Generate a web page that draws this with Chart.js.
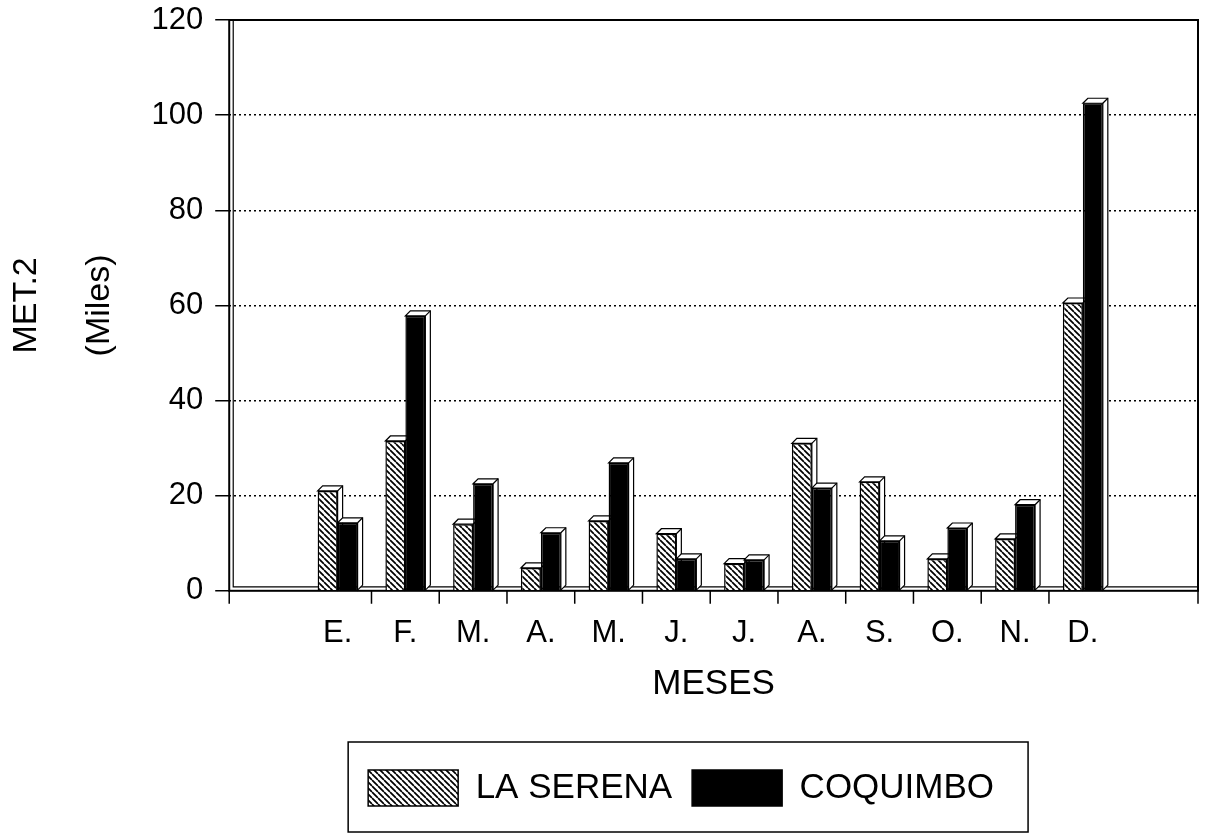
<!DOCTYPE html>
<html>
<head>
<meta charset="utf-8">
<script src="https://cdn.jsdelivr.net/npm/chart.js@4.4.1/dist/chart.umd.min.js"></script>
<style>
  body { margin: 0; background: #fff; }
  #wrap { width: 1206px; height: 840px; }
</style>
</head>
<body>
<div id="wrap"><canvas id="barChart" width="1206" height="840"></canvas></div>
<script>
// datos (miles de m2)
const meses = ['E.', 'F.', 'M.', 'A.', 'M.', 'J.', 'J.', 'A.', 'S.', 'O.', 'N.', 'D.'];
const laSerena = [21, 31.5, 14, 4.8, 14.7, 12, 5.7, 31, 22.9, 6.7, 10.9, 60.5];
const coquimbo = [14.3, 57.8, 22.5, 12.2, 26.9, 6.7, 6.5, 21.6, 10.5, 13.2, 18.1, 102.5];
const serieNombres = ['LA SERENA', 'COQUIMBO'];
const yTicks = [0, 20, 40, 60, 80, 100, 120];

const fontFam = "'Liberation Sans', Arial, sans-serif";
const depth = 5;
const legendShift = -32.5;

// meses en posiciones 1..12 del eje x
const toPoints = (arr) => arr.map((v, i) => ({ x: i + 1, y: v }));

// rayado diagonal para La Serena
function makeHatch() {
    const c = document.createElement('canvas');
    c.width = 6; c.height = 6;
    const g = c.getContext('2d');
    g.fillStyle = '#fff';
    g.fillRect(0, 0, 6, 6);
    g.strokeStyle = '#000';
    g.lineWidth = 1.7;
    g.beginPath();
    for (let k of [-6, 0, 6]) {
        g.moveTo(k, 0);
        g.lineTo(k + 6, 6);
    }
    g.stroke();
    return g.createPattern(c, 'repeat');
}
const hatch = makeHatch();

// marco, piso, marcas del eje x y caras 3D de las barras
const framePlugin = {
    id: 'frame3d',
    beforeDatasetsDraw(chart) {
        const ctx = chart.ctx;
        const a = chart.chartArea;
        const xs = chart.scales.x;
        ctx.save();
        ctx.strokeStyle = '#000';
        ctx.lineWidth = 1.2;
        ctx.beginPath();
        ctx.moveTo(a.left + 4, a.top + 1);
        ctx.lineTo(a.left + 4, a.bottom - 4);
        ctx.lineTo(a.right, a.bottom - 4);
        ctx.stroke();
        ctx.lineWidth = 2;
        ctx.strokeRect(a.left, a.top, a.right - a.left, a.bottom - a.top);

        // marcas entre meses
        ctx.lineWidth = 1.5;
        const marks = [a.left, a.right];
        for (let k = 1; k < meses.length; k++) marks.push(xs.getPixelForValue(k + 0.5));
        ctx.beginPath();
        for (let px of marks) {
            ctx.moveTo(px, a.bottom);
            ctx.lineTo(px, a.bottom + 13);
        }
        ctx.stroke();

        ctx.fillStyle = '#fff';
        ctx.lineWidth = 1.2;
        chart.data.datasets.forEach((ds, di) => {
            const meta = chart.getDatasetMeta(di);
            meta.data.forEach((bar) => {
                const p = bar.getProps(['x', 'y', 'base', 'width'], true);
                const l = p.x - p.width / 2, r = p.x + p.width / 2;
                ctx.beginPath();
                ctx.moveTo(l, p.y);
                ctx.lineTo(l + depth, p.y - depth);
                ctx.lineTo(r + depth, p.y - depth);
                ctx.lineTo(r + depth, p.base - depth);
                ctx.lineTo(r, p.base);
                ctx.lineTo(r, p.y);
                ctx.closePath();
                ctx.fill();
                ctx.stroke();
                ctx.beginPath();
                ctx.moveTo(r, p.y);
                ctx.lineTo(r + depth, p.y - depth);
                ctx.stroke();
            });
        });
        ctx.restore();
    },
    beforeDraw(chart) {
        // mover la leyenda un poco a la izquierda
        const lg = chart.legend;
        const a = chart.chartArea;
        if (lg) {
            lg.left = a.left + legendShift;
            lg.right = a.right + legendShift;
        }
    },
    afterDraw(chart) {
        const lg = chart.legend;
        if (!lg || !lg.legendHitBoxes.length) return;
        const hb = lg.legendHitBoxes;
        const first = hb[0], last = hb[hb.length - 1];
        const ctx = chart.ctx;
        ctx.save();
        ctx.strokeStyle = '#000';
        ctx.lineWidth = 1.5;
        const x1 = first.left + legendShift - 20;
        const x2 = last.left + last.width + legendShift + 34;
        const y1 = first.top - 28;
        const y2 = first.top + first.height + 26;
        ctx.strokeRect(x1, y1, x2 - x1, y2 - y1);
        ctx.restore();
    }
};

let config = {
    type: 'bar',
    data: {
        datasets: [{
            label: serieNombres[0],
            data: toPoints(laSerena),
            backgroundColor: hatch,
            borderColor: '#000',
            borderWidth: 1.5,
            categoryPercentage: 0.59,
            barPercentage: 1.0
        }, {
            label: serieNombres[1],
            data: toPoints(coquimbo),
            backgroundColor: '#000',
            borderColor: '#000',
            borderWidth: 1.5,
            categoryPercentage: 0.59,
            barPercentage: 1.0
        }]
    },
    options: {
        responsive: false,
        animation: false,
        layout: {
            padding: { top: 20, right: 8, bottom: 24, left: -9.5 }
        },
        plugins: {
            tooltip: { enabled: false },
            legend: {
                position: 'bottom',
                fullSize: false,
                labels: {
                    color: '#000',
                    font: { family: fontFam, size: 35 },
                    boxWidth: 90,
                    boxHeight: 36,
                    padding: 20
                }
            }
        },
        scales: {
            x: {
                type: 'linear',
                bounds: 'data',
                offset: false,
                min: -0.6,
                max: 13.7,
                afterBuildTicks: (axis) => { axis.ticks = meses.map((m, i) => ({ value: i + 1 })); },
                ticks: {
                    color: '#000',
                    font: { family: fontFam, size: 31 },
                    autoSkip: false,
                    maxRotation: 0,
                    padding: 11,
                    callback: (v) => meses[v - 1] || ''
                },
                grid: {
                    offset: false,
                    drawOnChartArea: false,
                    tickLength: 13,
                    tickColor: 'rgba(0,0,0,0)'
                },
                border: { display: false },
                title: {
                    display: true,
                    text: 'MESES',
                    color: '#000',
                    font: { family: fontFam, size: 35 },
                    padding: { top: 0, bottom: 45 }
                }
            },
            y: {
                min: 0,
                max: 120,
                afterBuildTicks: (axis) => { axis.ticks = yTicks.map(v => ({ value: v })); },
                afterFit: (axis) => { axis.paddingTop = 0; },
                ticks: {
                    color: '#000',
                    font: { family: fontFam, size: 31 },
                    padding: 12
                },
                grid: {
                    color: (c) => (c.tick && c.tick.value > 0 && c.tick.value < 120) ? '#000' : 'rgba(0,0,0,0)',
                    lineWidth: 1.5,
                    tickColor: '#000',
                    tickLength: 14,
                    tickWidth: 1.5
                },
                border: { display: false, dash: [2, 3] },
                title: {
                    display: true,
                    text: ['MET.2', '(Miles)'],
                    color: '#000',
                    font: { family: fontFam, size: 34, lineHeight: 73 / 34 },
                    padding: { top: 0, bottom: 3 }
                }
            }
        }
    },
    plugins: [framePlugin]
};

let chart = new Chart(document.getElementById('barChart').getContext('2d'), config);
</script>
</body>
</html>
